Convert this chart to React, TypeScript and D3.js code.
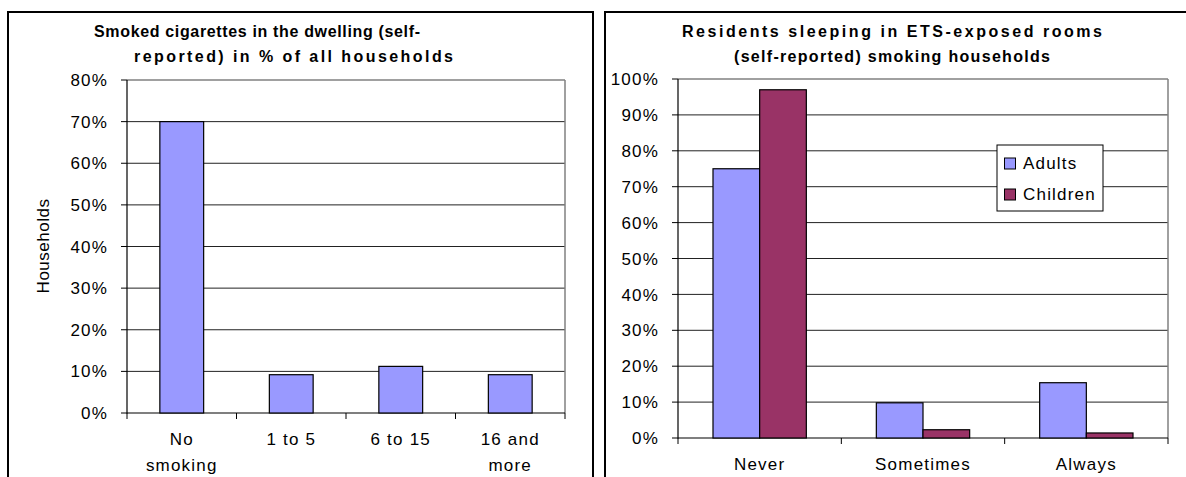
import React from "react";
import * as d3 from "d3";

const leftCategories = [["No", "smoking"], ["1 to 5"], ["6 to 15"], ["16 and", "more"]];
const leftValues = [0.70, 0.092, 0.112, 0.092];
const leftTicks = [0, 0.1, 0.2, 0.3, 0.4, 0.5, 0.6, 0.7, 0.8];

const rightCategories = ["Never", "Sometimes", "Always"];
const seriesNames = ["Adults", "Children"];
const adultsValues = [0.75, 0.098, 0.154];
const childrenValues = [0.97, 0.023, 0.014];
const rightTicks = [0, 0.1, 0.2, 0.3, 0.4, 0.5, 0.6, 0.7, 0.8, 0.9, 1.0];

const leftTitle = ["Smoked cigarettes in the dwelling (self-", "reported) in % of all households"];
const rightTitle = ["Residents sleeping in ETS-exposed rooms", "(self-reported) smoking households"];

const COLORS = ["#9999FF", "#993366"];
const FONT = "'Liberation Sans', Arial, Helvetica, sans-serif";
const pct = d3.format(".0%");
const AX_FS = 17;
const AX_LS = 1.2;

function Axes({ x0, x1, y, ticks, nCats }: any) {
  const [yb, yt] = y.range();
  const step = (x1 - x0) / nCats;
  return (
    <g>
      {ticks.map((t: number, i: number) => (
        <g key={i}>
          {t > 0 && (
            <line x1={x0} x2={x1} y1={y(t)} y2={y(t)}
              stroke={i === ticks.length - 1 ? "#808080" : "#222"}
              strokeWidth={i === ticks.length - 1 ? 1.5 : 1} />
          )}
          <line x1={x0 - 6} x2={x0} y1={y(t)} y2={y(t)} stroke="#000" />
          <text x={x0 - 19} y={y(t)} dy="0.36em" textAnchor="end" fontSize={AX_FS}
            letterSpacing={AX_LS} fontFamily={FONT} fill="#000">{pct(t)}</text>
        </g>
      ))}
      <line x1={x1} x2={x1} y1={yt} y2={yb} stroke="#808080" strokeWidth={1.5} />
      <line x1={x0} x2={x0} y1={yt} y2={yb + 0.5} stroke="#000" strokeWidth={1.2} />
      <line x1={x0} x2={x1} y1={yb} y2={yb} stroke="#000" strokeWidth={1.2} />
      {d3.range(nCats + 1).map((i) => (
        <line key={i} x1={x0 + i * step} x2={x0 + i * step} y1={yb} y2={yb + 6} stroke="#000" />
      ))}
    </g>
  );
}

export default function App() {
  // Left chart
  const Lx0 = 127, Lx1 = 565, Ly0 = 80, Ly1 = 413;
  const xL = d3.scaleBand<number>().domain(d3.range(leftCategories.length))
    .range([Lx0, Lx1]).paddingInner(0.6).paddingOuter(0.3);
  const xLstep = d3.scaleBand<number>().domain(d3.range(leftCategories.length)).range([Lx0, Lx1]);
  const yL = d3.scaleLinear().domain([0, 0.8]).range([Ly1, Ly0]);

  // Right chart
  const Rx0 = 678, Rx1 = 1168, Ry0 = 79, Ry1 = 438;
  const xR = d3.scaleBand<number>().domain(d3.range(rightCategories.length))
    .range([Rx0, Rx1]).paddingInner(1.5 / 3.5).paddingOuter(0.75 / 3.5);
  const xRstep = d3.scaleBand<number>().domain(d3.range(rightCategories.length)).range([Rx0, Rx1]);
  const xS = d3.scaleBand<number>().domain([0, 1]).range([0, xR.bandwidth()]);
  const yR = d3.scaleLinear().domain([0, 1]).range([Ry1, Ry0]);
  const rightSeries = [adultsValues, childrenValues];

  const titleProps = { fontFamily: FONT, fontWeight: "bold", fontSize: 16, fill: "#000", lengthAdjust: "spacing" } as any;

  return (
    <svg width={1186} height={477} style={{ position: "absolute", left: 0, top: 0, background: "#fff" }}>
      <rect x={0} y={0} width={1186} height={477} fill="#fff" />
      {/* panel borders */}
      <rect x={8} y={12} width={585} height={480} fill="none" stroke="#000" strokeWidth={2} />
      <rect x={605} y={12} width={590} height={480} fill="none" stroke="#000" strokeWidth={2} />

      {/* Left title */}
      <text {...titleProps} x={94} y={37} textLength={326}>{leftTitle[0]}</text>
      <text {...titleProps} x={134} y={62} textLength={319}>{leftTitle[1]}</text>

      <Axes x0={Lx0} x1={Lx1} y={yL} ticks={leftTicks} nCats={leftCategories.length} />
      {leftValues.map((v, i) => (
        <rect key={i} x={xL(i)} y={yL(v)} width={xL.bandwidth()} height={yL(0) - yL(v)}
          fill={COLORS[0]} stroke="#000" strokeWidth={1.2} />
      ))}
      {leftCategories.map((lines, i) => (
        <text key={i} x={(xLstep(i) as number) + xLstep.bandwidth() / 2} y={445} textAnchor="middle"
          fontSize={AX_FS} letterSpacing={AX_LS} fontFamily={FONT} fill="#000">
          {lines.map((l, j) => (
            <tspan key={j} x={(xLstep(i) as number) + xLstep.bandwidth() / 2} dy={j === 0 ? 0 : 26}>{l}</tspan>
          ))}
        </text>
      ))}
      <text transform={`translate(49,246) rotate(-90)`} textAnchor="middle" fontSize={AX_FS}
        letterSpacing={0.5} fontFamily={FONT} fill="#000">Households</text>

      {/* Right title */}
      <text {...titleProps} x={682} y={37} textLength={420}>{rightTitle[0]}</text>
      <text {...titleProps} x={734} y={62} textLength={316}>{rightTitle[1]}</text>

      <Axes x0={Rx0} x1={Rx1} y={yR} ticks={rightTicks} nCats={rightCategories.length} />
      {rightSeries.map((vals, s) =>
        vals.map((v, i) => (
          <rect key={`${s}-${i}`} x={(xR(i) as number) + (xS(s) as number)} y={yR(v)}
            width={xS.bandwidth()} height={yR(0) - yR(v)}
            fill={COLORS[s]} stroke="#000" strokeWidth={1.2} />
        ))
      )}
      {rightCategories.map((c, i) => (
        <text key={i} x={(xRstep(i) as number) + xRstep.bandwidth() / 2} y={470} textAnchor="middle"
          fontSize={AX_FS} letterSpacing={AX_LS} fontFamily={FONT} fill="#000">{c}</text>
      ))}

      {/* Legend */}
      <g>
        <rect x={997} y={145} width={106} height={66} fill="#fff" stroke="#000" strokeWidth={1} />
        {seriesNames.map((n, i) => (
          <g key={n}>
            <rect x={1004.5} y={158 + i * 31} width={11} height={11} fill={COLORS[i]} stroke="#000" strokeWidth={1} />
            <text x={1023} y={169 + i * 31} fontSize={AX_FS} letterSpacing={AX_LS} fontFamily={FONT} fill="#000">{n}</text>
          </g>
        ))}
      </g>
    </svg>
  );
}
